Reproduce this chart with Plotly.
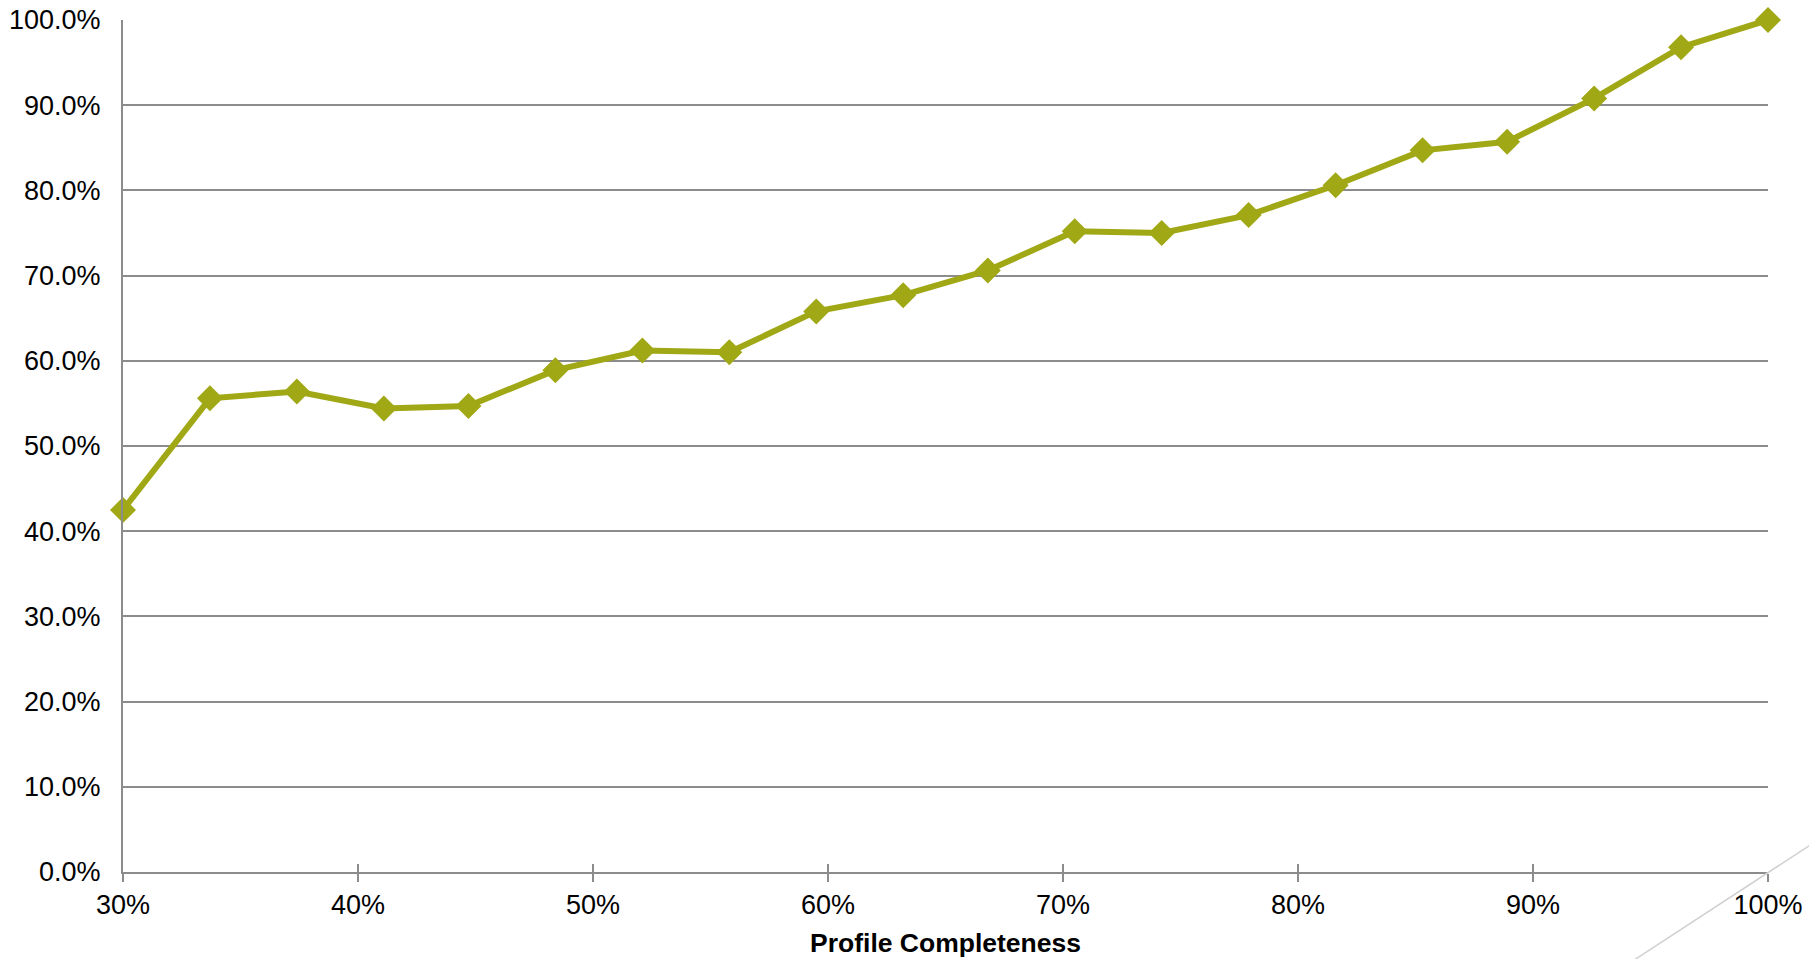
import plotly.graph_objects as go

completeness = [0.300, 0.337, 0.374, 0.411, 0.447, 0.484, 0.521, 0.558, 0.595, 0.632,
                0.668, 0.705, 0.742, 0.779, 0.816, 0.853, 0.889, 0.926, 0.963, 1.000]
rate = [0.425, 0.556, 0.564, 0.544, 0.547, 0.589, 0.612, 0.610, 0.658, 0.677,
        0.706, 0.752, 0.750, 0.771, 0.806, 0.847, 0.857, 0.908, 0.968, 1.000]

x_ticks = [0.3, 0.4, 0.5, 0.6, 0.7, 0.8, 0.9, 1.0]
x_labels = ["30%", "40%", "50%", "60%", "70%", "80%", "90%", "100%"]
y_ticks = [0.0, 0.1, 0.2, 0.3, 0.4, 0.5, 0.6, 0.7, 0.8, 0.9, 1.0]
y_labels = ["0.0%", "10.0%", "20.0%", "30.0%", "40.0%", "50.0%", "60.0%",
            "70.0%", "80.0%", "90.0%", "100.0%"]

GRID = "#8c8c8c"
LINE = "#a0a815"
FONT = "Liberation Sans, Arial, sans-serif"

fig = go.Figure()
fig.add_trace(go.Scatter(
    x=completeness, y=rate, mode="lines+markers",
    line=dict(color=LINE, width=6),
    marker=dict(symbol="diamond", size=20, color=LINE),
    cliponaxis=False, showlegend=False, hoverinfo="x+y",
))
# invisible trace to carry the second x axis (inside tick marks -> cross ticks)
fig.add_trace(go.Scatter(x=[completeness[0]], y=[rate[0]], xaxis="x2",
                         mode="markers", marker=dict(opacity=0),
                         showlegend=False, hoverinfo="skip"))

fig.update_layout(
    width=1809, height=959,
    margin=dict(l=123, r=41, t=20, b=87, autoexpand=False),
    paper_bgcolor="white", plot_bgcolor="white",
    font=dict(family=FONT, size=27, color="black"),
    xaxis=dict(
        range=[0.3, 1.0], tickvals=x_ticks, ticktext=x_labels,
        showgrid=False, zeroline=False, automargin=False,
        showline=True, linecolor=GRID, linewidth=2,
        ticks="outside", ticklen=8, tickwidth=2, tickcolor=GRID,
        tickfont=dict(size=27), ticklabeloverflow="allow",
        title=dict(text="<b>Profile Completeness</b>", font=dict(size=26.5), standoff=14),
    ),
    xaxis2=dict(
        range=[0.3, 1.0], tickvals=x_ticks, showticklabels=False,
        overlaying="x", side="bottom", showgrid=False, zeroline=False,
        showline=False, ticks="inside", ticklen=8, tickwidth=2, tickcolor=GRID,
    ),
    yaxis=dict(
        range=[0.0, 1.0], tickvals=y_ticks, ticktext=y_labels,
        showgrid=True, gridcolor=GRID, gridwidth=2, zeroline=False, automargin=False,
        showline=True, linecolor=GRID, linewidth=2,
        ticks="", ticklabelstandoff=15, tickfont=dict(size=27),
        ticklabeloverflow="allow",
    ),
    shapes=[dict(type="line", xref="paper", yref="paper",
                 x0=0.9094, y0=-0.1150, x1=1.0377, y1=0.0469,
                 line=dict(color="#d0d0d0", width=1.5), layer="above")],
)

fig.write_html("out.html",
               config={"displayModeBar": False},
               post_script="document.body.style.margin='0';document.body.style.overflow='hidden';")
